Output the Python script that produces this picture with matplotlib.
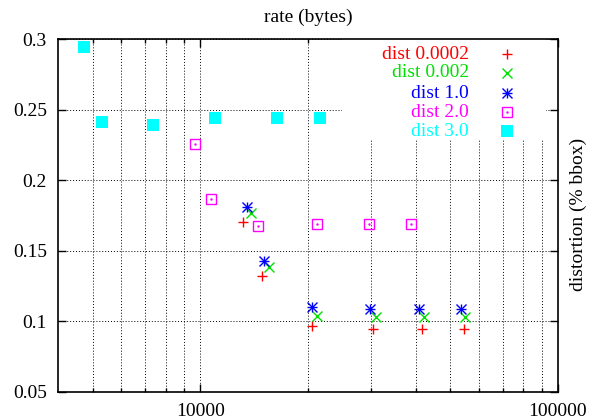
import matplotlib
matplotlib.use("Agg")
import matplotlib.pyplot as plt
from matplotlib.patches import Rectangle
from matplotlib.ticker import FixedLocator, NullFormatter, FixedFormatter

plt.rcParams['font.family'] = ['Liberation Serif', 'DejaVu Serif']

# Data
labels = ["dist 0.0002", "dist 0.002", "dist 1.0", "dist 2.0", "dist 3.0"]
colors = ["#ff0000", "#00e000", "#0000ff", "#ff00ff", "#00ffff"]

x_d00002 = [13160, 14900, 20510, 30420, 41780, 54740]
y_d00002 = [0.1702, 0.1322, 0.0965, 0.0944, 0.0944, 0.0944]

x_d0002 = [13880, 15515, 21130, 31010, 42160, 55090]
y_d0002 = [0.1766, 0.1383, 0.1040, 0.1029, 0.1029, 0.1029]

x_d1 = [13470, 15026, 20512, 29850, 40910, 53480]
y_d1 = [0.1810, 0.1430, 0.1100, 0.1086, 0.1086, 0.1086]

x_d2 = [9640, 10733, 14521, 21132, 29650, 38780]
y_d2 = [0.2254, 0.1867, 0.1678, 0.1688, 0.1688, 0.1688]

x_d3 = [4721, 5314, 7379, 11014, 16376, 21638]
y_d3 = [0.2945, 0.2414, 0.2393, 0.2443, 0.2443, 0.2443]

xticks_major = [10000, 100000]
xtick_labels = ["10000", "100000"]
xticks_minor = [5000, 6000, 7000, 8000, 9000, 20000, 30000, 40000, 50000, 60000, 70000, 80000, 90000]
yticks = [0.05, 0.1, 0.15, 0.2, 0.25, 0.3]
ytick_labels = ["0.05", "0.1", "0.15", "0.2", "0.25", "0.3"]

fig = plt.figure(figsize=(5.89, 4.2), dpi=100)
ax = fig.add_axes([58/589, 1 - 392/420, 500/589, 353/420])
ax.set_xscale('log')
ax.set_xlim(4000, 100000)
ax.set_ylim(0.05, 0.3)

ax.xaxis.set_major_locator(FixedLocator(xticks_major))
ax.xaxis.set_major_formatter(FixedFormatter(xtick_labels))
ax.xaxis.set_minor_locator(FixedLocator(xticks_minor))
ax.xaxis.set_minor_formatter(NullFormatter())
ax.yaxis.set_major_locator(FixedLocator(yticks))
ax.yaxis.set_major_formatter(FixedFormatter(ytick_labels))

ax.tick_params(which='both', direction='in', top=True, right=True, labelsize=14, width=1, color='black')
ax.tick_params(which='major', length=6, pad=8)
ax.tick_params(which='minor', length=3)
ax.tick_params(axis='x', which='major', pad=8)

grid_kw = dict(color='black', linestyle=(0, (1, 2)), linewidth=0.7)
ax.grid(True, which='major', axis='both', **grid_kw)
ax.grid(True, which='minor', axis='x', **grid_kw)
ax.set_axisbelow(True)
for s in ax.spines.values():
    s.set_linewidth(1.2)

ms = 7
ax.plot(x_d00002, y_d00002, linestyle='none', marker='+', color=colors[0], ms=ms, mew=1.0)
ax.plot(x_d0002, y_d0002, linestyle='none', marker='x', color=colors[1], ms=ms, mew=1.0)
ax.plot(x_d1, y_d1, linestyle='none', marker='+', color=colors[2], ms=ms, mew=1.0)
ax.plot(x_d1, y_d1, linestyle='none', marker='x', color=colors[2], ms=ms, mew=1.0)
ax.plot(x_d2, y_d2, linestyle='none', marker='s', mfc='none', mec=colors[3], ms=7, mew=1.0)
ax.plot(x_d2, y_d2, linestyle='none', marker='.', color=colors[3], ms=1.5)
ax.plot(x_d3, y_d3, linestyle='none', marker='s', color=colors[4], ms=8, mew=0)

# Legend (manual, gnuplot-style)
ax.add_patch(Rectangle((0.568, 0.714), 0.408, 0.286, transform=ax.transAxes,
                       facecolor='white', edgecolor='none', zorder=2))
rows = [0.9575, 0.9037, 0.847, 0.793, 0.739]
tx, mx = 0.822, 0.898
for i, (lab, c) in enumerate(zip(labels, colors)):
    ax.text(tx, rows[i], lab, color=c, ha='right', va='center', fontsize=14,
            transform=ax.transAxes, zorder=3)
leg_specs = [
    [dict(marker='+', color=colors[0], ms=ms, mew=1.0)],
    [dict(marker='x', color=colors[1], ms=ms, mew=1.0)],
    [dict(marker='+', color=colors[2], ms=ms, mew=1.0), dict(marker='x', color=colors[2], ms=ms, mew=1.0)],
    [dict(marker='s', mfc='none', mec=colors[3], ms=7, mew=1.0), dict(marker='.', color=colors[3], ms=1.5)],
    [dict(marker='s', color=colors[4], ms=8, mew=0)],
]
for i, specs in enumerate(leg_specs):
    for sp in specs:
        ax.plot([mx], [rows[i]], linestyle='none', transform=ax.transAxes, zorder=3, **sp)

fig.text(308/589, 1 - 17/420, "rate (bytes)", ha='center', va='center', fontsize=14)
fig.text(578/589, 1 - 214/420, "distortion (% bbox)", ha='center', va='center', fontsize=14, rotation=90)

fig.savefig("out.png", dpi=100)
